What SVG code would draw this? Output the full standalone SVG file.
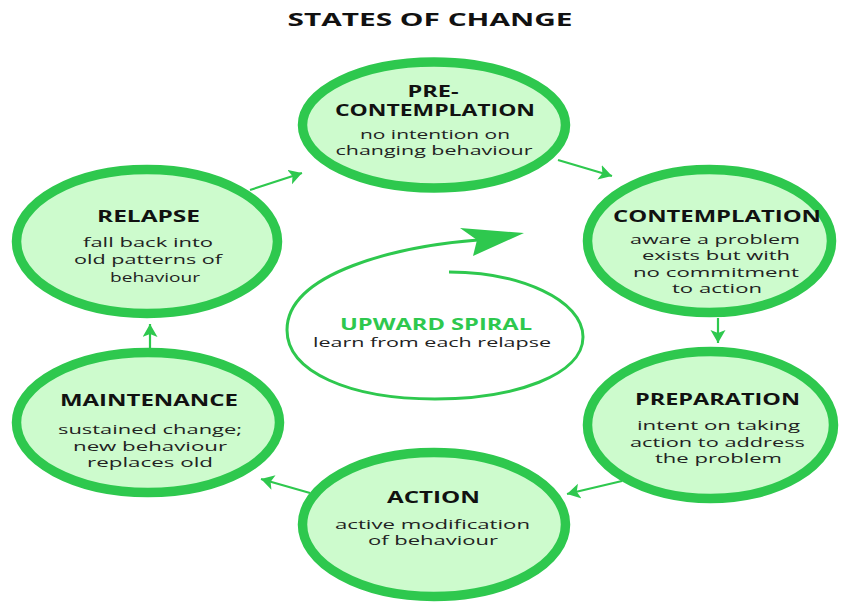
<svg xmlns="http://www.w3.org/2000/svg" width="844" height="603" viewBox="0 0 844 603">
<style>
.node ellipse{fill:#cdfbcd;stroke:#2ec84e;stroke-width:9.5}
.h{font-family:"Open Sans","DejaVu Sans",sans-serif;font-weight:700;font-size:16px;fill:#111;text-anchor:middle}
.b{font-family:"Open Sans","DejaVu Sans",sans-serif;font-weight:500;font-size:13px;fill:#222;text-anchor:middle}
.conn line{stroke:#2ec84e;stroke-width:2.2;fill:none}
</style>
<defs>
<marker id="ah" markerUnits="userSpaceOnUse" markerWidth="16" markerHeight="16" refX="13" refY="7.5" orient="auto">
<path d="M0,0 L13,7.5 L0,15 L3,7.5 z" fill="#2ec84e"/>
</marker>
</defs>
<rect width="844" height="603" fill="#ffffff"/>
<text class="h" x="430" y="26" textLength="285" lengthAdjust="spacingAndGlyphs" style="font-size:17.5px">STATES OF CHANGE</text>

<g id="precontemplation" class="node">
<ellipse cx="434" cy="125" rx="131.5" ry="63"/>
<text class="h" x="433" y="97" textLength="51" lengthAdjust="spacingAndGlyphs">PRE-</text>
<text class="h" x="435" y="116" textLength="200" lengthAdjust="spacingAndGlyphs">CONTEMPLATION</text>
<text class="b" x="435" y="139" textLength="150" lengthAdjust="spacingAndGlyphs">no intention on</text>
<text class="b" x="434" y="155" textLength="197" lengthAdjust="spacingAndGlyphs">changing behaviour</text>
</g>

<g id="contemplation" class="node">
<ellipse cx="709.5" cy="241" rx="122" ry="71.5"/>
<text class="h" x="717" y="222" textLength="208" lengthAdjust="spacingAndGlyphs">CONTEMPLATION</text>
<text class="b" x="715" y="244" textLength="170" lengthAdjust="spacingAndGlyphs">aware a problem</text>
<text class="b" x="716" y="260" textLength="148" lengthAdjust="spacingAndGlyphs">exists but with</text>
<text class="b" x="716" y="277" textLength="166" lengthAdjust="spacingAndGlyphs">no commitment</text>
<text class="b" x="717" y="293" textLength="90" lengthAdjust="spacingAndGlyphs">to action</text>
</g>

<g id="preparation" class="node">
<ellipse cx="710.5" cy="425" rx="123" ry="73.5"/>
<text class="h" x="717.5" y="405" textLength="165" lengthAdjust="spacingAndGlyphs">PREPARATION</text>
<text class="b" x="718.5" y="430" textLength="163" lengthAdjust="spacingAndGlyphs">intent on taking</text>
<text class="b" x="717.5" y="447" textLength="175" lengthAdjust="spacingAndGlyphs">action to address</text>
<text class="b" x="718.5" y="463" textLength="127" lengthAdjust="spacingAndGlyphs">the problem</text>
</g>

<g id="action" class="node">
<ellipse cx="434" cy="524.5" rx="131.5" ry="72"/>
<text class="h" x="433.5" y="503" textLength="93" lengthAdjust="spacingAndGlyphs">ACTION</text>
<text class="b" x="432.5" y="529" textLength="195" lengthAdjust="spacingAndGlyphs">active modification</text>
<text class="b" x="433" y="545" textLength="130" lengthAdjust="spacingAndGlyphs">of behaviour</text>
</g>

<g id="maintenance" class="node">
<ellipse cx="148" cy="422.5" rx="131.5" ry="70"/>
<text class="h" x="149" y="406" textLength="178" lengthAdjust="spacingAndGlyphs">MAINTENANCE</text>
<text class="b" x="150" y="434" textLength="184" lengthAdjust="spacingAndGlyphs">sustained change;</text>
<text class="b" x="150" y="451" textLength="154" lengthAdjust="spacingAndGlyphs">new behaviour</text>
<text class="b" x="150" y="467" textLength="126" lengthAdjust="spacingAndGlyphs">replaces old</text>
</g>

<g id="relapse" class="node">
<ellipse cx="147" cy="241.5" rx="130.5" ry="72"/>
<text class="h" x="148.5" y="222" textLength="103" lengthAdjust="spacingAndGlyphs">RELAPSE</text>
<text class="b" x="148" y="247" textLength="130" lengthAdjust="spacingAndGlyphs">fall back into</text>
<text class="b" x="148" y="264" textLength="148" lengthAdjust="spacingAndGlyphs">old patterns of</text>
<text class="b" x="155" y="282" textLength="90" lengthAdjust="spacingAndGlyphs">behaviour</text>
</g>

<g id="upward-spiral">
<path d="M449,272 C520,272 583,300 583,337 C583,375 515,399 435,399 C350,399 287,372 287,330 C287,272 400,246 478,240" fill="none" stroke="#2ec84e" stroke-width="3"/>
<polygon points="524,233 460,228 477,240 473,256" fill="#2ec84e"/>
<text class="h" x="436" y="330" textLength="192" lengthAdjust="spacingAndGlyphs" style="fill:#2ec84e">UPWARD SPIRAL</text>
<text class="b" x="432" y="347" textLength="238" lengthAdjust="spacingAndGlyphs">learn from each relapse</text>
</g>

<g id="connectors" class="conn">
<line x1="250" y1="190" x2="302" y2="173" marker-end="url(#ah)"/>
<line x1="558" y1="160" x2="612" y2="176" marker-end="url(#ah)"/>
<line x1="718" y1="318" x2="718" y2="343" marker-end="url(#ah)"/>
<line x1="622" y1="481" x2="567" y2="494" marker-end="url(#ah)"/>
<line x1="310" y1="493" x2="261" y2="479" marker-end="url(#ah)"/>
<line x1="150" y1="349" x2="150" y2="324" marker-end="url(#ah)"/>
</g>
</svg>
